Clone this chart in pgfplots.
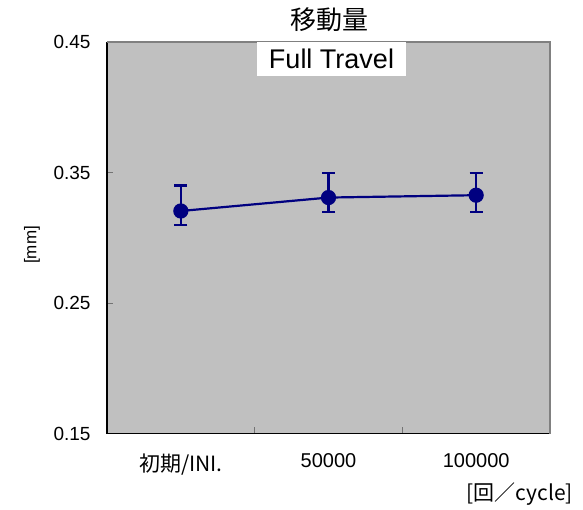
\documentclass[border=0pt]{standalone}
\usepackage{fontspec}
\setmainfont{Liberation Sans}
\newfontfamily\jp{Noto Sans CJK JP}
\usepackage{pgfplots}
\pgfplotsset{compat=1.18}
\definecolor{plotgray}{HTML}{C0C0C0}
\definecolor{navy}{HTML}{000080}
\begin{document}
\begin{tikzpicture}
\useasboundingbox (0,0) rectangle (583bp,510bp);
\begin{axis}[
  at={(107bp,76.5bp)}, anchor=south west,
  scale only axis, width=443bp, height=391.5bp,
  xmin=-0.5, xmax=2.5, ymin=0.15, ymax=0.45,
  axis x line*=bottom, axis y line*=left,
  axis line style={black, line width=1.6bp},
  axis background/.style={fill=plotgray},
  tick align=inside,
  major tick length=6bp,
  tick style={draw=black!55, line width=0.8bp},
  ytick={0.15,0.25,0.35,0.45},
  yticklabels={0.15,0.25,0.35,0.45},
  xtick={0.5,1.5}, xticklabels={,},
  extra x ticks={0,1,2},
  extra x tick labels={{\jp\fontsize{21bp}{24bp}\selectfont 初期/INI.},50000,100000},
  extra x tick style={major tick length=0pt},
  /pgf/number format/assume math mode=true,
  ticklabel style={font=\fontsize{19bp}{22bp}\selectfont},
  xticklabel style={font=\fontsize{20bp}{23bp}\selectfont, yshift=-17bp},
  yticklabel style={xshift=-13bp},
  clip=false,
]
\draw[draw=black!50, line width=1.6bp] (rel axis cs:0,1) -- (rel axis cs:1,1) -- (rel axis cs:1,0);
\addplot[navy, line width=2.2bp, mark=*, mark size=6.5bp, mark options={solid, fill=navy},
  error bars/.cd, y dir=both, y explicit,
  error bar style={line width=2.6bp, navy},
  error mark options={rotate=90, mark size=6.5bp, line width=2.2bp, navy}]
  coordinates {
    (0,0.3205) += (0,0.0195) -= (0,0.0109)
    (1,0.3308) += (0,0.0189) -= (0,0.0110)
    (2,0.3326) += (0,0.0171) -= (0,0.0128)
  };
\end{axis}
\node[fill=white, minimum width=149bp, minimum height=34.5bp, inner sep=0pt,
  font=\fontsize{27bp}{30bp}\selectfont] at (331.5bp,451bp) {Full Travel};
\node[font=\jp\fontsize{26bp}{30bp}\selectfont] at (329bp,490bp) {移動量};
\node[rotate=90, font=\fontsize{17bp}{20bp}\selectfont] at (32bp,265bp) {[mm]};
\node[anchor=east, inner sep=0pt, font=\jp\fontsize{21bp}{24bp}\selectfont] at (573bp,16bp) {[回／cycle]};
\end{tikzpicture}
\end{document}
